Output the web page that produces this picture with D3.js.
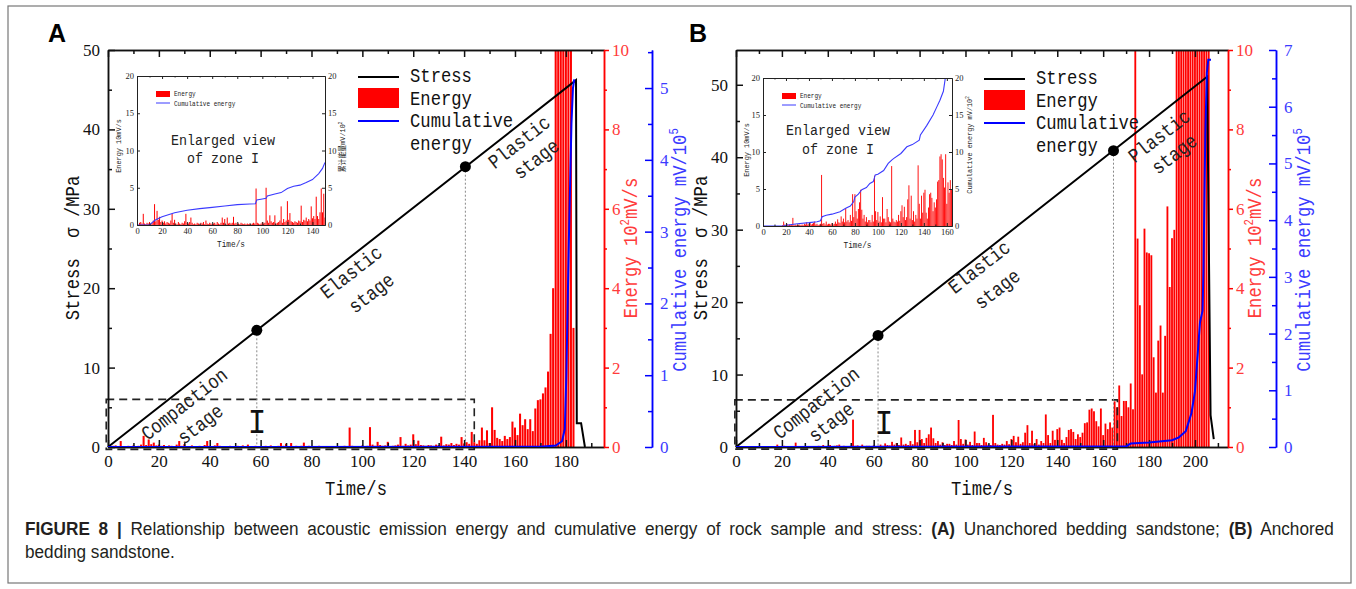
<!DOCTYPE html>
<html>
<head>
<meta charset="utf-8">
<script src="https://cdn.jsdelivr.net/npm/d3@7"></script>
<style>
  body { margin: 0; background: #fff; }
  svg { display: block; }
  text { white-space: pre; }
</style>
</head>
<body>
<svg id="fig" width="1356" height="589"></svg>
<script>
// ---------- data ----------
// energy: one value per second starting at t = 0, unit 10^2 mV/s
const energyA = [
  0,0,0.03,0.04,0.02,0.15,0.02,0.01,0.03,0.02,
  0.04,0.01,0.03,0.06,0.28,0.05,0.19,0.07,0.11,0.04,
  0.06,0.03,0.05,0.02,0.04,0.03,0.02,0.06,0.15,0.03,
  0.07,0.02,0.01,0.04,0.02,0.01,0.03,0.02,0.05,0.15,
  0.03,0.02,0.04,0.1,0.03,0.01,0.02,0.01,0.03,0.02,
  0.01,0.03,0.02,0.04,0.01,0.06,0.02,0.01,0.03,0.02,
  0.01,0.02,0.03,0.01,0.04,0.02,0.01,0.03,0.1,0.03,
  0.08,0.01,0.1,0.02,0.03,0.02,0.03,0.11,0.02,0.03,
  0.01,0.02,0.01,0.03,0.02,0.01,0.02,0.01,0.02,0.01,
  0.02,0.01,0.02,0.03,0.02,0.49,0.03,0.02,0.01,0.02,
  0.04,0.02,0.03,0.5,0.06,0.03,0.13,0.05,0.03,0.04,
  0.13,0.02,0.03,0.04,0.06,0.25,0.03,0.08,0.04,0.06,
  0.32,0.07,0.16,0.05,0.04,0.03,0.05,0.04,0.03,0.06,
  0.05,0.26,0.04,0.07,0.06,0.1,0.05,0.08,0.06,0.25,
  0.09,0.12,0.08,0.38,0.12,0.08,0.17,0.49,0.17,0.42,
  0.1,1.0,0.43,0.23,0.2,0.15,0.28,0.2,0.25,0.64,
  0.49,0.3,0.84,0.55,0.7,0.45,0.7,0.4,0.97,1.18,
  1.2,1.35,1.5,1.9,2.85,4.0,14,18,22,20,
  26,24,19,3.0,0
];
const energyB = [
  0,0,0,0,0,0,0,0,0,0,
  0,0,0,0,0,0,0,0.01,0.06,0.02,
  0.01,0.03,0.01,0.02,0.01,0.02,0.11,0.01,0.02,0.01,
  0.02,0.01,0.02,0.01,0.02,0.01,0.03,0.02,0.05,0.02,
  0.03,0.05,0.02,0.03,0.04,0.06,0.02,0.03,0.01,0.02,
  0.03,0.69,0.03,0.04,0.02,0.06,0.02,0.03,0.03,0.02,
  0.04,0.02,0.03,0.06,0.03,0.09,0.05,0.04,0.13,0.06,
  0.1,0.05,0.24,0.06,0.08,0.05,0.15,0.07,0.43,0.12,
  0.43,0.2,0.1,0.23,0.32,0.49,0.22,0.1,0.15,0.06,
  0.12,0.05,0.08,0.08,0.05,0.15,0.06,0.68,0.2,0.08,
  0.19,0.06,0.13,0.05,0.39,0.1,0.1,0.05,0.23,0.12,
  0.06,0.05,0.81,0.1,0.06,0.05,0.08,0.06,0.15,0.07,
  0.2,0.28,0.12,0.26,0.08,0.12,0.36,0.55,0.1,0.41,
  0.08,0.2,0.06,0.15,0.1,0.82,0.3,0.1,0.41,0.18,
  0.45,0.49,0.18,0.1,0.25,0.43,0.45,0.38,0.2,0.32,
  0.25,0.36,0.6,0.62,0.94,0.97,0.9,0.65,0.52,0.97,
  0.3,0.59,0.45,0.62,0.49,1.15,1.0,1.55,0.78,1.16,
  1.16,1.0,1.6,0.95,12,5.25,3.57,1.83,5.5,4.9,
  4.88,4.83,2.26,1.37,2.68,3.06,1.37,2.8,6.06,4.03,
  5.26,5.47,14,18,16,22,19,24,21,26,
  23,28,20,25,30,22,18,0
];

// stress (MPa)
const stressA_t = [0, 184, 184.3, 186, 187.5];
const stressA_s = [0, 46.2, 3, 3, 0];
const stressB_t = [0, 205.3, 206.8, 208.2];
const stressB_s = [0, 51.1, 4.4, 1.1];

// cumulative energy, main panels (mV/10^5)
const cumA_t = [0, 170, 176, 178.5, 179.6, 180.2, 181.2, 182.2, 182.8, 183.3];
const cumA_v = [0, 0.003, 0.02, 0.08, 0.25, 1.0, 2.9, 4.5, 5.0, 5.12];
const cumB_t = [0, 170, 172, 180, 190, 193, 196, 198.5, 200, 201.3, 202.2, 203.3, 203.7, 204.5, 205.2, 205.8, 207];
const cumB_v = [0, 0.01, 0.06, 0.08, 0.12, 0.17, 0.28, 0.6, 0.98, 1.7, 2.2, 2.4, 3.1, 5.5, 6.6, 6.83, 6.83];

// cumulative energy, insets (mV/10^2)
const cumInsetA_t = [0,10,13,15,20,30,40,50,60,70,80,90,94.5,95.5,100,103,104,110,115,120,125,130,135,140,145,148,150];
const cumInsetA_v = [0,0,0.45,0.7,1.1,1.65,1.97,2.2,2.37,2.55,2.73,2.82,2.86,3.35,3.5,3.6,3.9,4.16,4.35,4.9,5.2,5.35,5.7,6.1,6.9,7.6,8.4];
const cumInsetB_t = [0,18,20,30,40,47,50,51.5,55,60,67,72,76,79,80,83,86,90,93,96,97.7,100,105,109,112,113.6,120,125.2,130,136,137,142.6,148,151.3,154,157,158.6,159.5];
const cumInsetB_v = [0,0,0.1,0.3,0.45,0.58,0.7,1.26,1.45,1.6,1.93,2.4,2.7,3.3,3.9,4.3,4.9,5.2,5.75,6.0,6.9,7.0,7.5,8.45,8.9,9.1,9.8,10.7,11.0,11.6,12.3,13.6,15.0,16.1,17.0,18.2,19.9,20.3];

// stage boundary points on the stress curve
const dotsA_t = [58.5, 140.5], dotsA_s = [14.7, 35.3];
const dotsB_t = [61.9, 164.5], dotsB_s = [15.4, 40.9];

// zone I (dashed box)
const zoneA_t = [-0.7, 144], zoneA_s = [-0.3, 6.0];
const zoneB_t = [-0.5, 166.2], zoneB_s = [-0.3, 6.5];

const legendLabels = ["Stress", "Energy", "Cumulative", "energy"];

// ---------- drawing ----------
const svg = d3.select("#fig");
const FONT_SIM = "'Liberation Mono', 'Noto Sans CJK SC', monospace";
const FONT_NUM = "'Liberation Serif', 'DejaVu Serif', serif";
const RED = "#ff0000", BLUE = "#0000ff";
const fmt = d3.format("d");

// text in the figure's narrow serif style; parts = [[text, isSup], ...]
function sim(g, x, y, parts, size, rot, fill, anchor) {
  const t = g.append("text")
    .attr("transform", `translate(${x},${y}) rotate(${rot || 0}) scale(0.86,1)`)
    .attr("font-family", FONT_SIM)
    .attr("font-size", size)
    .attr("text-anchor", anchor || "middle")
    .attr("dominant-baseline", "central")
    .attr("fill", fill || "#111");
  (typeof parts === "string" ? [[parts]] : parts).forEach(p => {
    const ts = t.append("tspan").text(p[0]);
    if (p[1]) ts.attr("font-size", size * 0.62).attr("baseline-shift", "super");
  });
  return t;
}

function axisG(g, axis, tx, ty, color, size, lineColor) {
  const a = g.append("g").attr("transform", `translate(${tx},${ty})`).call(axis);
  a.select(".domain").attr("stroke", lineColor || color).attr("stroke-width", 1.5);
  a.selectAll(".tick line").attr("stroke", lineColor || color).attr("stroke-width", 1.5);
  a.selectAll(".tick text").attr("fill", color).attr("font-size", size).attr("font-family", FONT_NUM);
  return a;
}

function panel(p) {
  const g = svg.append("g");
  const x = d3.scaleLinear().domain([0, p.xMax]).range([p.left, p.right]);
  const y = d3.scaleLinear().domain([0, p.sMax]).range([p.bottom, p.top]);
  const yE = d3.scaleLinear().domain([0, 10]).range([p.bottom, p.top]);
  const yC = d3.scaleLinear().domain([0, p.cMax]).range([p.bottom, p.top]);

  svg.append("clipPath").attr("id", "clip" + p.id).append("rect")
    .attr("x", p.left).attr("y", p.top).attr("width", p.right - p.left).attr("height", p.bottom - p.top);

  // energy bars
  g.append("g").attr("clip-path", `url(#clip${p.id})`)
    .selectAll("rect").data(p.energy).join("rect")
    .attr("x", (d, i) => x(i - 0.4))
    .attr("width", x(0.8) - x(0))
    .attr("y", d => yE(d))
    .attr("height", d => yE(0) - yE(d))
    .attr("fill", RED);

  // dashed zone I
  g.append("rect")
    .attr("x", x(p.zT[0])).attr("y", y(p.zS[1]))
    .attr("width", x(p.zT[1]) - x(p.zT[0])).attr("height", y(p.zS[0]) - y(p.zS[1]))
    .attr("fill", "none").attr("stroke", "#222").attr("stroke-width", 1.6)
    .attr("stroke-dasharray", "8,5");

  // dotted guides
  g.selectAll(".guide").data(p.dT).join("line")
    .attr("x1", d => x(d)).attr("x2", d => x(d))
    .attr("y1", (d, i) => y(p.dS[i])).attr("y2", y(0))
    .attr("stroke", "#888").attr("stroke-width", 1).attr("stroke-dasharray", "2,2");

  // axes
  const xt = d3.range(0, p.xMax, 20), xm = d3.range(10, p.xMax, 20);
  axisG(g, d3.axisBottom(x).tickValues(xt).tickSizeInner(-7).tickSizeOuter(0).tickPadding(8).tickFormat(fmt), 0, p.bottom, "#111", 17);
  axisG(g, d3.axisBottom(x).tickValues(xm).tickSizeInner(-4).tickSizeOuter(0).tickFormat(""), 0, p.bottom, "#111", 17);
  axisG(g, d3.axisTop(x).tickValues(xt).tickSizeInner(-7).tickSizeOuter(0).tickFormat(""), 0, p.top, "#111", 17);
  axisG(g, d3.axisTop(x).tickValues(xm).tickSizeInner(-4).tickSizeOuter(0).tickFormat(""), 0, p.top, "#111", 17);
  axisG(g, d3.axisLeft(y).tickValues(d3.range(0, p.sMax + 1e-6, 10)).tickSizeInner(-7).tickSizeOuter(0).tickPadding(8).tickFormat(fmt), p.left, 0, "#111", 17);
  axisG(g, d3.axisLeft(y).tickValues(d3.range(5, p.sMax, 10)).tickSizeInner(-4).tickSizeOuter(0).tickFormat(""), p.left, 0, "#111", 17);
  axisG(g, d3.axisRight(yE).tickValues([0, 2, 4, 6, 8, 10]).tickSizeInner(5).tickSizeOuter(0).tickPadding(3).tickFormat(fmt), p.right, 0, "#ff3b3b", 17, RED);
  axisG(g, d3.axisRight(yE).tickValues([1, 3, 5, 7, 9]).tickSizeInner(3).tickSizeOuter(0).tickFormat(""), p.right, 0, RED, 17);
  axisG(g, d3.axisRight(yC).tickValues(d3.range(0, p.cMax + 1e-6, 1)).tickSizeInner(-7).tickSizeOuter(0).tickPadding(8).tickFormat(fmt), p.blueX, 0, "#3b3bff", 17, BLUE);
  axisG(g, d3.axisRight(yC).tickValues(d3.range(0.5, p.cMax, 1)).tickSizeInner(-4).tickSizeOuter(0).tickFormat(""), p.blueX, 0, BLUE, 17);

  // stress and cumulative lines
  g.append("path").datum(p.sT)
    .attr("d", d3.line().x(d => x(d)).y((d, i) => y(p.sS[i])))
    .attr("fill", "none").attr("stroke", "#000").attr("stroke-width", 2);
  g.append("path").datum(p.cT).attr("clip-path", `url(#clip${p.id})`)
    .attr("d", d3.line().x(d => x(d)).y((d, i) => yC(p.cV[i])))
    .attr("fill", "none").attr("stroke", BLUE).attr("stroke-width", 2);

  g.selectAll(".dot").data(p.dT).join("circle")
    .attr("cx", d => x(d)).attr("cy", (d, i) => y(p.dS[i])).attr("r", 5.5).attr("fill", "#000");

  // zone I marker
  sim(g, p.iMark[0], p.iMark[1], "I", 36, 0, "#111");

  // stage notes
  p.notes.forEach(n => sim(g, n[1], n[2], n[0], 20, -38, "#222"));

  // axis titles
  sim(g, p.left - 34, 248, "Stress  σ /MPa", 20, -90, "#111");
  sim(g, p.right + 28, 248, [["Energy 10"], ["2", true], ["mV/s"]], 20, -90, "#ff3b3b");
  sim(g, p.blueX + 29, 250, [["Cumulative energy mV/10"], ["5", true]], 20, -90, "#3b3bff");
  sim(g, (p.left + p.right) / 2, 490, "Time/s", 20, 0, "#111");

  // legend
  const lx = p.legX, ly = p.legY;
  g.append("line").attr("x1", lx).attr("x2", lx + 41).attr("y1", ly).attr("y2", ly).attr("stroke", "#000").attr("stroke-width", 2);
  g.append("rect").attr("x", lx).attr("y", ly + 11).attr("width", 41).attr("height", 20).attr("fill", RED);
  g.append("line").attr("x1", lx).attr("x2", lx + 41).attr("y1", ly + 44).attr("y2", ly + 44).attr("stroke", BLUE).attr("stroke-width", 2);
  legendLabels.forEach((s, i) => sim(g, lx + 52, ly + [0, 23, 45, 68][i], s, 20, 0, "#111", "start"));

  // panel letter
  g.append("text").attr("x", p.letterX).attr("y", 42)
    .attr("font-family", "'Liberation Sans', Arial, sans-serif").attr("font-weight", "bold").attr("font-size", 25)
    .text(p.id);

  inset(p, p.inset);
}

function inset(p, q) {
  const g = svg.append("g");
  const x = d3.scaleLinear().domain([0, q.xMax]).range([q.L, q.R]);
  const y = d3.scaleLinear().domain([0, 20]).range([q.B, q.T]);
  g.append("rect").attr("x", q.L).attr("y", q.T).attr("width", q.R - q.L).attr("height", q.B - q.T)
    .attr("fill", "#fff");
  svg.append("clipPath").attr("id", "iclip" + p.id).append("rect")
    .attr("x", q.L).attr("y", q.T).attr("width", q.R - q.L).attr("height", q.B - q.T);

  const bars = p.energy.map((v, t) => ({ t, v: v * 10 })).filter(d => d.t <= q.xMax);
  g.append("g").attr("clip-path", `url(#iclip${p.id})`)
    .selectAll("rect").data(bars).join("rect")
    .attr("x", d => x(d.t - 0.4)).attr("width", x(0.8) - x(0))
    .attr("y", d => y(d.v)).attr("height", d => y(0) - y(d.v))
    .attr("fill", RED);
  g.append("path").datum(q.cT).attr("clip-path", `url(#iclip${p.id})`)
    .attr("d", d3.line().x(d => x(d)).y((d, i) => y(q.cV[i])))
    .attr("fill", "none").attr("stroke", "#3a3aff").attr("stroke-width", 1.1);

  const xt = d3.range(0, q.xMax + 0.1, 20), xm = d3.range(10, q.xMax, 20);
  const sty = a => { a.select(".domain").attr("stroke-width", 1); a.selectAll(".tick line").attr("stroke-width", 1); return a; };
  sty(axisG(g, d3.axisBottom(x).tickValues(xt).tickSizeInner(-3).tickSizeOuter(0).tickPadding(3).tickFormat(fmt), 0, q.B, "#222", 8.5));
  sty(axisG(g, d3.axisBottom(x).tickValues(xm).tickSizeInner(-1.5).tickSizeOuter(0).tickFormat(""), 0, q.B, "#222", 8.5));
  sty(axisG(g, d3.axisTop(x).tickValues(xt).tickSizeInner(-3).tickSizeOuter(0).tickFormat(""), 0, q.T, "#222", 8.5));
  sty(axisG(g, d3.axisTop(x).tickValues(xm).tickSizeInner(-1.5).tickSizeOuter(0).tickFormat(""), 0, q.T, "#222", 8.5));
  sty(axisG(g, d3.axisLeft(y).tickValues([0, 5, 10, 15, 20]).tickSizeInner(-3).tickSizeOuter(0).tickPadding(3).tickFormat(fmt), q.L, 0, "#222", 8.5));
  sty(axisG(g, d3.axisRight(y).tickValues([0, 5, 10, 15, 20]).tickSizeInner(-3).tickSizeOuter(0).tickPadding(3).tickFormat(fmt), q.R, 0, "#222", 8.5));

  // inset legend
  g.append("rect").attr("x", q.L + 19).attr("y", q.T + 15).attr("width", 14).attr("height", 6).attr("fill", RED);
  g.append("line").attr("x1", q.L + 19).attr("x2", q.L + 33).attr("y1", q.T + 27).attr("y2", q.T + 27)
    .attr("stroke", "#3a3aff").attr("stroke-width", 1);
  sim(g, q.L + 37, q.T + 18, "Energy", 7, 0, "#222", "start");
  sim(g, q.L + 37, q.T + 28, "Cumulative energy", 7, 0, "#222", "start");

  sim(g, q.enl[0], q.enl[1], "Enlarged view", 15.5, 0, "#222");
  sim(g, q.enl[0], q.enl[2], "of zone I", 15.5, 0, "#222");

  sim(g, (q.L + q.R) / 2, q.B + 20, "Time/s", 9, 0, "#222");
  sim(g, q.leftX, q.leftY, "Energy 10mV/s", 8, -90, "#222");
  sim(g, q.rightX, q.rightY, q.rightTitle, 8, -90, "#222");
}

panel({
  id: "A", left: 108, right: 604, top: 50, bottom: 447, blueX: 652,
  xMax: 195, sMax: 50, cMax: 5.53,
  energy: energyA, sT: stressA_t, sS: stressA_s, cT: cumA_t, cV: cumA_v,
  dT: dotsA_t, dS: dotsA_s, zT: zoneA_t, zS: zoneA_s,
  letterX: 48, legX: 358, legY: 77, iMark: [257, 423],
  notes: [["Compaction", 185, 405], ["stage", 201, 425], ["Elastic", 352, 273], ["stage", 372, 294],
          ["Plastic", 520, 143], ["stage", 537, 160]],
  inset: { L: 137, R: 325, T: 76, B: 225, xMax: 150, cT: cumInsetA_t, cV: cumInsetA_v,
           enl: [223, 141, 159], leftX: 119, leftY: 146, rightX: 343, rightY: 147,
           rightTitle: [["累计能量mV/10"], ["2", true]] }
});

panel({
  id: "B", left: 736, right: 1228, top: 50, bottom: 447, blueX: 1276,
  xMax: 214.4, sMax: 54.8, cMax: 7,
  energy: energyB, sT: stressB_t, sS: stressB_s, cT: cumB_t, cV: cumB_v,
  dT: dotsB_t, dS: dotsB_s, zT: zoneB_t, zS: zoneB_s,
  letterX: 689, legX: 984, legY: 79, iMark: [884, 424],
  notes: [["Compaction", 817, 404], ["stage", 832, 423], ["Elastic", 980, 268], ["stage", 998, 290],
          ["Plastic", 1160, 137], ["stage", 1175, 155]],
  inset: { L: 763, R: 952, T: 78, B: 226, xMax: 164.5, cT: cumInsetB_t, cV: cumInsetB_v,
           enl: [838, 131, 150], leftX: 747, leftY: 150, rightX: 970, rightY: 145,
           rightTitle: [["Cumulative energy mV/10"], ["2", true]] }
});

// caption: condensed font, first line justified by word spacing
const capFont = "'Liberation Sans', Arial, sans-serif";
const capG = svg.append("g");
const cap = capG.append("text").attr("x", 0).attr("y", 535)
  .attr("font-family", capFont).attr("font-size", 18).attr("fill", "#231f20");
[["FIGURE 8 |", true], [" Relationship between acoustic emission energy and cumulative energy of rock sample and stress: ", false],
 ["(A)", true], [" Unanchored bedding sandstone; ", false], ["(B)", true], [" Anchored", false]]
  .forEach(s => cap.append("tspan").attr("font-weight", s[1] ? "bold" : "normal").text(s[0]));
const cap2 = capG.append("text").attr("x", 0).attr("y", 558)
  .attr("font-family", capFont).attr("font-size", 18).attr("fill", "#231f20")
  .text("bedding sandstone.");
const sx = 150 / cap2.node().getComputedTextLength();
const nSpaces = cap.text().split(" ").length - 1;
const extra = (1310 / sx - cap.node().getComputedTextLength()) / nSpaces;
cap.attr("word-spacing", Math.max(0, extra));
capG.attr("transform", `translate(25,0) scale(${sx},1)`);

// outer frame
svg.append("rect").attr("x", 8).attr("y", 6).attr("width", 1343).attr("height", 577)
  .attr("fill", "none").attr("stroke", "#777").attr("stroke-width", 1.2);
</script>
</body>
</html>
